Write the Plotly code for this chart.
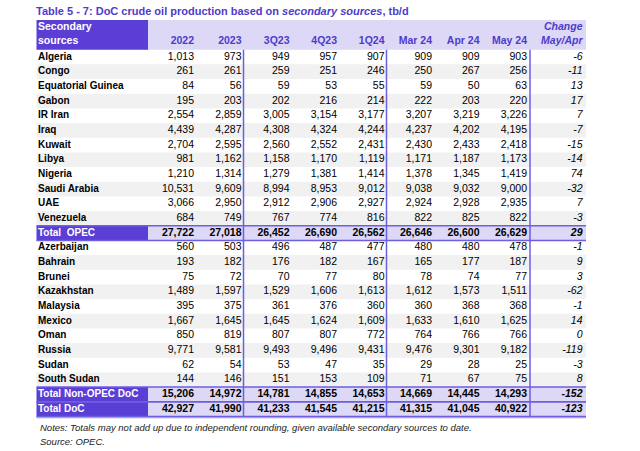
import plotly.graph_objects as go

# ---------------- data ----------------
opec_countries = ["Algeria", "Congo", "Equatorial Guinea", "Gabon", "IR Iran", "Iraq",
                  "Kuwait", "Libya", "Nigeria", "Saudi Arabia", "UAE", "Venezuela"]
nonopec_countries = ["Azerbaijan", "Bahrain", "Brunei", "Kazakhstan", "Malaysia", "Mexico",
                     "Oman", "Russia", "Sudan", "South Sudan"]
column_labels = ["2022", "2023", "3Q23", "4Q23", "1Q24", "Mar 24", "Apr 24", "May 24"]

opec_2022 = [1013, 261, 84, 195, 2554, 4439, 2704, 981, 1210, 10531, 3066, 684]
opec_2023 = [973, 261, 56, 203, 2859, 4287, 2595, 1162, 1314, 9609, 2950, 749]
opec_3q23 = [949, 259, 59, 202, 3005, 4308, 2560, 1158, 1279, 8994, 2912, 767]
opec_4q23 = [957, 251, 53, 216, 3154, 4324, 2552, 1170, 1381, 8953, 2906, 774]
opec_1q24 = [907, 246, 55, 214, 3177, 4244, 2431, 1119, 1414, 9012, 2927, 816]
opec_mar24 = [909, 250, 59, 222, 3207, 4237, 2430, 1171, 1378, 9038, 2924, 822]
opec_apr24 = [909, 267, 50, 203, 3219, 4202, 2433, 1187, 1345, 9032, 2928, 825]
opec_may24 = [903, 256, 63, 220, 3226, 4195, 2418, 1173, 1419, 9000, 2935, 822]
opec_change = [-6, -11, 13, 17, 7, -7, -15, -14, 74, -32, 7, -3]
total_opec = [27722, 27018, 26452, 26690, 26562, 26646, 26600, 26629, 29]

nonopec_2022 = [560, 193, 75, 1489, 395, 1667, 850, 9771, 62, 144]
nonopec_2023 = [503, 182, 72, 1597, 375, 1645, 819, 9581, 54, 146]
nonopec_3q23 = [496, 176, 70, 1529, 361, 1645, 807, 9493, 53, 151]
nonopec_4q23 = [487, 182, 77, 1606, 376, 1624, 807, 9496, 47, 153]
nonopec_1q24 = [477, 167, 80, 1613, 360, 1609, 772, 9431, 35, 109]
nonopec_mar24 = [480, 165, 78, 1612, 360, 1633, 764, 9476, 29, 71]
nonopec_apr24 = [480, 177, 74, 1573, 368, 1610, 766, 9301, 28, 67]
nonopec_may24 = [478, 187, 77, 1511, 368, 1625, 766, 9182, 25, 75]
nonopec_change = [-1, 9, 3, -62, -1, 14, 0, -119, -3, 8]
total_nonopec = [15206, 14972, 14781, 14855, 14653, 14669, 14445, 14293, -152]
total_doc = [42927, 41990, 41233, 41545, 41215, 41315, 41045, 40922, -123]

# ---------------- style / layout constants ----------------
FONT = "Liberation Sans, Arial, sans-serif"
DARK = "#5A3ED6"
LAV = "#DCD8F6"
PURPLE_TXT = "#4E3BCB"
LINE = "#6E5EE0"
STRIPE = "#F1F1F1"

W, H = 640, 451
LEFT, LABEL_RIGHT, RIGHT = 36.5, 148, 586
COL_RIGHT = [194, 241.5, 289.5, 337, 384.5, 432, 479.5, 527, 582.5]
VLINES = [243.5, 386.5, 530]
HEAD_TOP, BODY_TOP, ROW_H = 20, 49.7, 14.67
NUM_SIZE, LAB_SIZE, HEAD_SIZE = 10.5, 10, 10.5

# ---------------- build rows ----------------
opec_cols = [opec_2022, opec_2023, opec_3q23, opec_4q23, opec_1q24, opec_mar24,
             opec_apr24, opec_may24, opec_change]
nonopec_cols = [nonopec_2022, nonopec_2023, nonopec_3q23, nonopec_4q23, nonopec_1q24,
                nonopec_mar24, nonopec_apr24, nonopec_may24, nonopec_change]

rows = []  # (label, values, kind, stripe)
for i, c in enumerate(opec_countries):
    rows.append((c, [col[i] for col in opec_cols], "reg", i % 2 == 1))
rows.append(("Total\u00a0 OPEC", total_opec, "tot", False))
for i, c in enumerate(nonopec_countries):
    rows.append((c, [col[i] for col in nonopec_cols], "reg", i % 2 == 1))
rows.append(("Total Non-OPEC DoC", total_nonopec, "tot", False))
rows.append(("Total DoC", total_doc, "tot", False))


def fmt(v):
    return f"{v:,}"


def yc(i):
    return BODY_TOP + (i + 0.5) * ROW_H


shapes = []


def rect(x0, x1, y0, y1, color):
    shapes.append(dict(type="rect", xref="x", yref="y", x0=x0, x1=x1, y0=y0, y1=y1,
                       fillcolor=color, line=dict(width=0), layer="below"))


def hline(y, width=1.5, color=LINE):
    shapes.append(dict(type="line", xref="x", yref="y", x0=LEFT, x1=RIGHT, y0=y, y1=y,
                       line=dict(color=color, width=width), layer="above"))


# header
rect(LEFT, LABEL_RIGHT, HEAD_TOP, BODY_TOP, DARK)
rect(LABEL_RIGHT, RIGHT, HEAD_TOP, BODY_TOP, LAV)

for i, (lab, vals, kind, stripe) in enumerate(rows):
    y0 = BODY_TOP + i * ROW_H
    y1 = y0 + ROW_H
    if kind == "tot":
        rect(LEFT, LABEL_RIGHT, y0, y1, DARK)
        rect(LABEL_RIGHT, RIGHT, y0, y1, LAV)
    elif stripe:
        rect(LEFT, RIGHT, y0, y1, STRIPE)

# horizontal lines around totals
for i, (lab, vals, kind, stripe) in enumerate(rows):
    if kind == "tot":
        hline(BODY_TOP + i * ROW_H)
        hline(BODY_TOP + (i + 1) * ROW_H)
BOTTOM = BODY_TOP + len(rows) * ROW_H
hline(BOTTOM + 1.2, width=1.2, color="#A79DEB")

# vertical lines
for xv in VLINES:
    shapes.append(dict(type="line", xref="x", yref="y", x0=xv, x1=xv, y0=BODY_TOP, y1=BOTTOM,
                       line=dict(color=LINE, width=1.5), layer="above"))

fig = go.Figure()


def text_trace(xs, ys, texts, pos, size, color, weight="normal", style="normal"):
    fig.add_trace(go.Scatter(
        x=xs, y=ys, text=texts, mode="text", textposition=pos,
        textfont=dict(family=FONT, size=size, color=color, weight=weight, style=style),
        hoverinfo="skip", showlegend=False, cliponaxis=False))


# labels
reg_idx = [i for i, r in enumerate(rows) if r[2] == "reg"]
tot_idx = [i for i, r in enumerate(rows) if r[2] == "tot"]
LAB_X = LEFT + 1.5
text_trace([LAB_X] * len(reg_idx), [yc(i) for i in reg_idx], [rows[i][0] for i in reg_idx],
           "middle right", LAB_SIZE, "#000000", weight="bold")
text_trace([LAB_X] * len(tot_idx), [yc(i) for i in tot_idx], [rows[i][0] for i in tot_idx],
           "middle right", LAB_SIZE, "#FFFFFF", weight="bold")

# numbers
for j, xr in enumerate(COL_RIGHT):
    is_change = j == len(COL_RIGHT) - 1
    style = "italic" if is_change else "normal"
    text_trace([xr] * len(reg_idx), [yc(i) for i in reg_idx],
               [fmt(rows[i][1][j]) for i in reg_idx], "middle left", NUM_SIZE, "#000000",
               weight="normal", style=style)
    text_trace([xr] * len(tot_idx), [yc(i) for i in tot_idx],
               [fmt(rows[i][1][j]) for i in tot_idx], "middle left", NUM_SIZE, "#000000",
               weight="bold", style=style)

# header texts
HY1, HY2 = 27.7, 41.8
text_trace([LAB_X, LAB_X], [HY1, HY2], ["Secondary", "sources"], "middle right", HEAD_SIZE,
           "#FFFFFF", weight="bold")
text_trace(COL_RIGHT[:-1], [HY2] * len(column_labels), column_labels, "middle left",
           HEAD_SIZE, PURPLE_TXT, weight="bold")
text_trace([COL_RIGHT[-1], COL_RIGHT[-1]], [HY1, HY2], ["Change", "May/Apr"], "middle left",
           HEAD_SIZE, PURPLE_TXT, weight="bold", style="italic")

fig.update_layout(
    width=W, height=H,
    margin=dict(l=0, r=0, t=0, b=0),
    paper_bgcolor="white", plot_bgcolor="white",
    xaxis=dict(range=[0, W], visible=False, fixedrange=True),
    yaxis=dict(range=[H, 0], visible=False, fixedrange=True),
    shapes=shapes,
    title=dict(text="Table 5 - 7: DoC crude oil production based on <i>secondary sources</i>, tb/d",
               x=36 / W, xanchor="left", xref="paper", y=1 - 11.5 / H, yanchor="middle",
               yref="container",
               font=dict(family=FONT, size=11, color=PURPLE_TXT, weight="bold")),
    annotations=[
        dict(text="<i>Notes: Totals may not add up due to independent rounding, given available secondary sources to date.</i>",
             x=38 / W, y=1 - 427 / H, xref="paper", yref="paper", xanchor="left", yanchor="middle",
             showarrow=False, font=dict(family=FONT, size=9.5, color="#222222")),
        dict(text="<i>Source: OPEC.</i>",
             x=38 / W, y=1 - 441 / H, xref="paper", yref="paper", xanchor="left", yanchor="middle",
             showarrow=False, font=dict(family=FONT, size=9.5, color="#222222")),
    ],
)

fig.write_html("out.html", config={"displayModeBar": False},
               post_script="document.body.style.margin='0px';document.body.style.padding='0px';")
